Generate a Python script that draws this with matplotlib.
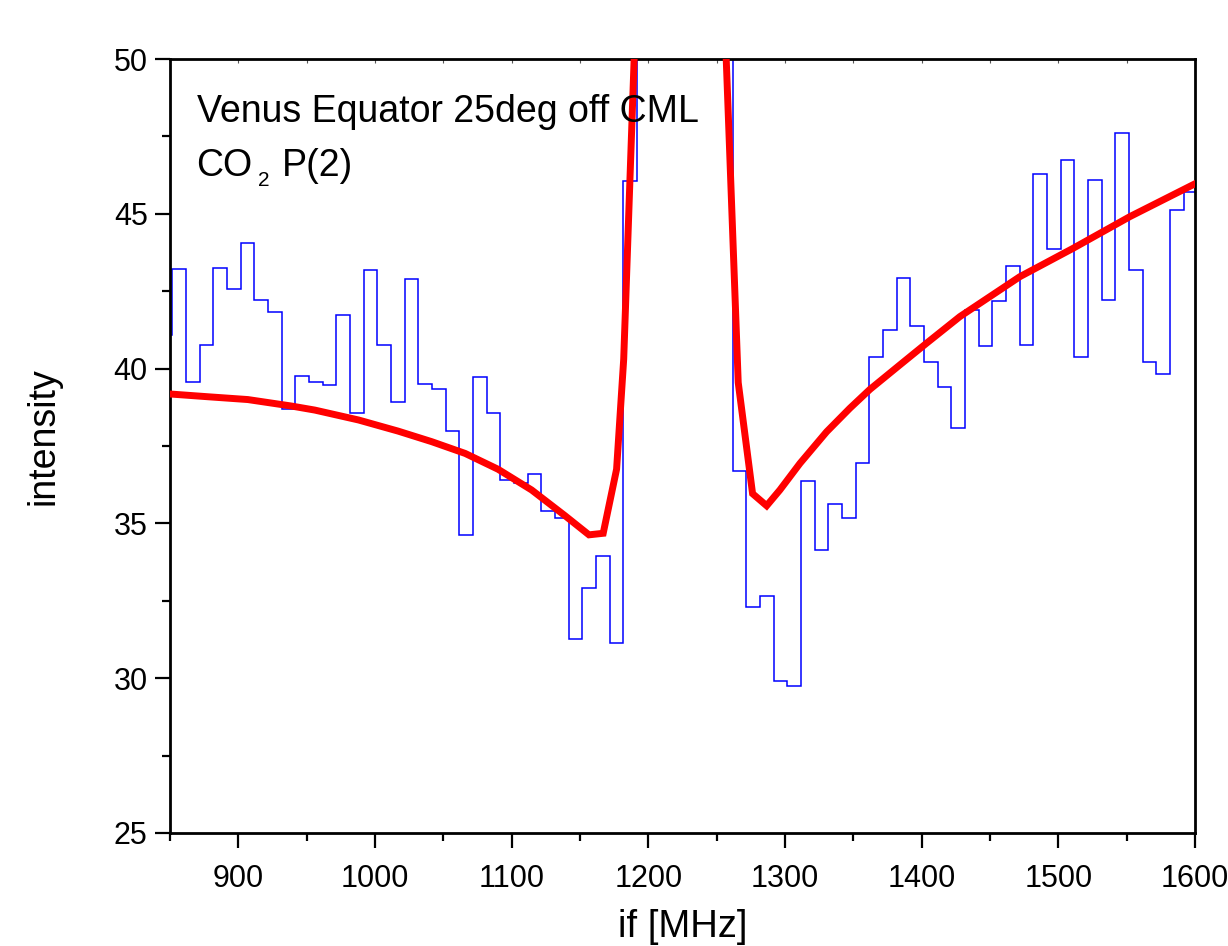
import numpy as np
import matplotlib
matplotlib.use("Agg")
import matplotlib.pyplot as plt
from matplotlib.ticker import MultipleLocator, NullFormatter

plt.rcParams['font.family'] = ['Liberation Sans', 'DejaVu Sans']

# Blue step spectrum: bin edges (MHz) and intensities
bin_left = 841.7
bin_width = 10.0
spectrum = [
    41.08, 43.22, 39.58, 40.75, 43.24, 42.56, 44.05, 42.23, 41.82, 38.68,
    39.76, 39.58, 39.46, 41.72, 38.56, 43.18, 40.75, 38.91, 42.89, 39.49,
    39.33, 38.00, 34.64, 39.74, 38.58, 36.40, 36.31, 36.58, 35.39, 35.19,
    31.27, 32.90, 33.94, 31.12, 46.06,
    62.0, 85.0, 105.0, 112.0, 100.0, 78.0, 58.0,
    36.70, 32.29, 32.65, 29.91, 29.75, 36.38, 34.14, 35.63, 35.16, 36.95,
    40.36, 41.25, 42.94, 41.39, 40.20, 39.40, 38.09, 41.88, 40.73, 42.18,
    43.31, 40.77, 46.29, 43.87, 46.73, 40.37, 46.08, 42.23, 47.62, 43.17,
    40.20, 39.83, 45.11, 45.69,
]
bin_edges = bin_left + bin_width * np.arange(len(spectrum) + 1)

# Red model curve
fit_x = [850, 878, 907, 939, 956, 988, 1017, 1041.5, 1066, 1090, 1114.6, 1139,
         1156.6, 1167, 1176.8, 1182, 1192, 1205, 1226, 1245, 1255,
         1265.8, 1276.3, 1286.6, 1296.3, 1311, 1330.5, 1347.5, 1362.2,
         1384.1, 1403.6, 1428, 1471.9, 1511, 1552.4, 1600]
fit_y = [39.18, 39.09, 39.00, 38.79, 38.66, 38.34, 37.98, 37.64, 37.26, 36.75,
         36.08, 35.25, 34.63, 34.68, 36.75, 40.3, 53.0, 80.0, 110.0, 80.0, 52.4,
         39.55, 35.96, 35.57, 36.08, 36.94, 37.96, 38.72, 39.33,
         40.12, 40.82, 41.68, 42.97, 43.89, 44.91, 45.97]

x_ticks = [900, 1000, 1100, 1200, 1300, 1400, 1500, 1600]
y_ticks = [25, 30, 35, 40, 45, 50]

fig = plt.figure(figsize=(12.28, 9.46), dpi=100)
ax = fig.add_axes([0.1384, 0.1195, 0.8347, 0.8181])

ax.stairs(spectrum, bin_edges, baseline=None, color='#0000ff', linewidth=1.1, zorder=2)
ax.plot(fit_x, fit_y, color='#ff0000', linewidth=5, zorder=3, solid_joinstyle='miter')

ax.set_xlim(850, 1600)
ax.set_ylim(25, 50)
ax.set_xticks(x_ticks)
ax.set_yticks(y_ticks)
ax.xaxis.set_minor_locator(MultipleLocator(50))
ax.yaxis.set_minor_locator(MultipleLocator(2.5))

for s in ax.spines.values():
    s.set_linewidth(2.0)
ax.tick_params(axis='both', which='major', direction='out', length=11, width=1.6,
               labelsize=22)
ax.tick_params(axis='x', which='major', pad=11)
ax.tick_params(axis='y', which='major', pad=5)
ax.tick_params(axis='both', which='minor', direction='out', length=5.5, width=1.6)

# faint inward ticks on the top axis
top = ax.secondary_xaxis('top')
top.set_xticks(x_ticks)
top.xaxis.set_minor_locator(MultipleLocator(50))
top.xaxis.set_major_formatter(NullFormatter())
top.tick_params(axis='x', which='both', direction='in', length=3, width=0.8,
                colors='#555555')
top.spines['top'].set_visible(False)

ax.set_xlabel('if [MHz]', fontsize=27.5)
ax.xaxis.set_label_coords(0.5, -0.098)
ax.set_ylabel('intensity', fontsize=27)
ax.yaxis.set_label_coords(-0.106, 0.513)

ax.text(0.026, 0.955, 'Venus Equator 25deg off CML', transform=ax.transAxes,
        fontsize=27, va='top', ha='left')
ax.text(0.026, 0.885, 'CO', transform=ax.transAxes,
        fontsize=27, va='top', ha='left')
ax.text(0.0855, 0.855, '2', transform=ax.transAxes,
        fontsize=15, va='top', ha='left')
ax.text(0.1095, 0.885, 'P(2)', transform=ax.transAxes,
        fontsize=27, va='top', ha='left')

fig.savefig('out.png', dpi=100)
